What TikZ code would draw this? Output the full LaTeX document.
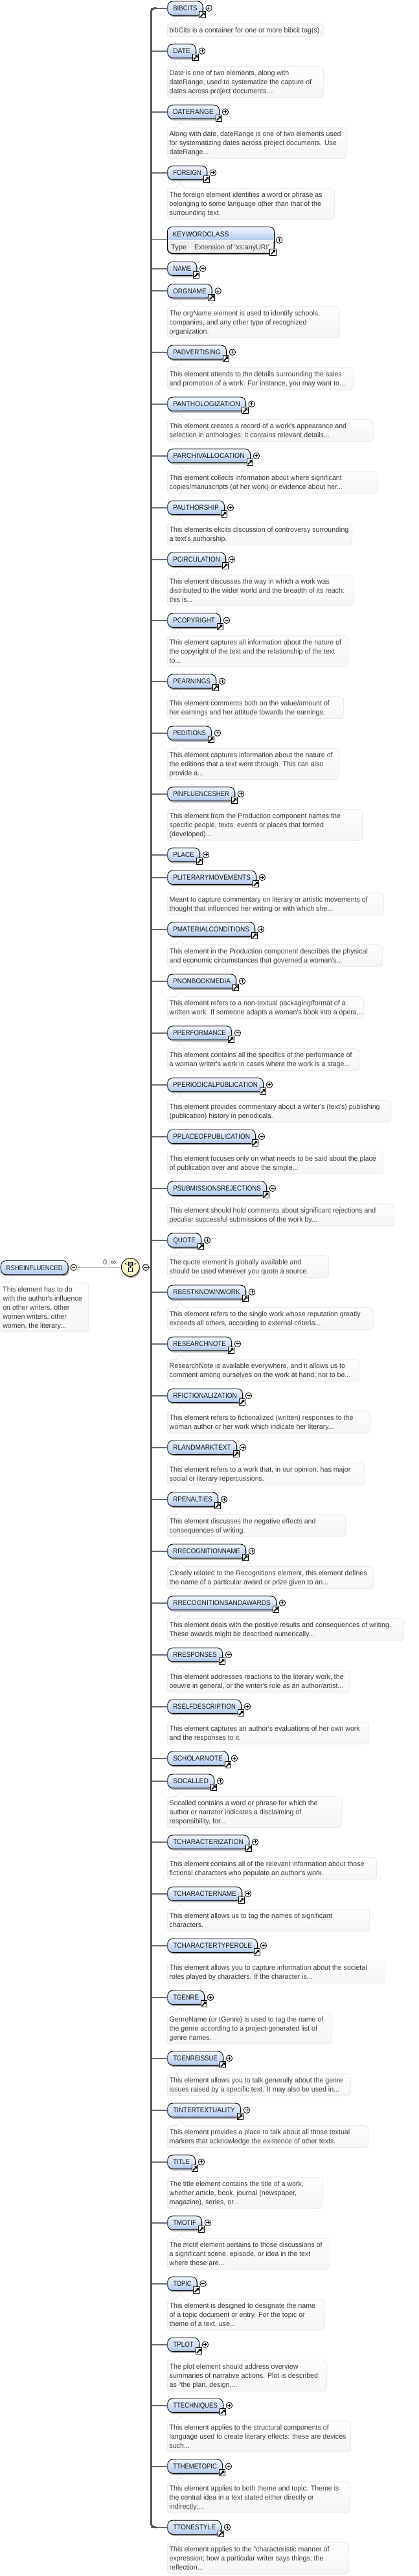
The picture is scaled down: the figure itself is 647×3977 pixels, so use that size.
\documentclass[tikz,border=0pt]{standalone}
\usepackage{fontspec}
\usepackage{graphicx}
\setmainfont{Liberation Sans}
\newfontfamily\descfont[FakeStretch=0.965]{Liberation Sans}
\usetikzlibrary{shadows}
\definecolor{boxtop}{HTML}{F3F7FE}
\definecolor{boxbot}{HTML}{B3C9EE}
\definecolor{desctop}{HTML}{FFFFFF}
\definecolor{descbot}{HTML}{F6F6F6}
\definecolor{descline}{HTML}{E6E6E6}
\definecolor{nametext}{HTML}{1C1C1C}
\definecolor{desctext}{HTML}{3A3A3A}
\definecolor{spinecol}{HTML}{555555}
\definecolor{branchcol}{HTML}{6A6A6A}
\definecolor{seqfill}{HTML}{FDF8C8}
\definecolor{rowfill}{HTML}{EFEFEF}
\tikzset{
  softshadow/.style={drop shadow={shadow xshift=1.5pt,shadow yshift=-2.5pt,opacity=0.33,fill=black}},
  namebox/.style={rectangle,rounded corners=8pt,draw=black,line width=0.9pt,inner xsep=0pt,inner ysep=0pt,
    minimum height=21.4pt,text height=8pt,text depth=0pt,text=nametext,
    top color=boxtop,bottom color=boxbot,softshadow},
  linkicon/.style={rectangle,draw=black,line width=1pt,fill=white,minimum size=9.5pt,inner sep=0pt,
    path picture={
      \coordinate (ic) at (path picture bounding box.center);
      \draw[black,line width=1.7pt] ([shift={(-3pt,-3pt)}]ic) -- ([shift={(1.2pt,1.2pt)}]ic);
      \fill[black] ([shift={(3.4pt,3.4pt)}]ic) -- ([shift={(-1pt,3.4pt)}]ic) -- ([shift={(3.4pt,-1pt)}]ic) -- cycle;}},
  pluscirc/.style={circle,draw=black,line width=0.8pt,fill=white,minimum size=9.6pt,inner sep=0pt,
    path picture={
      \coordinate (pc) at (path picture bounding box.center);
      \draw[black,line width=0.8pt] ([xshift=-2.6pt]pc) -- ([xshift=2.6pt]pc) ([yshift=-2.6pt]pc) -- ([yshift=2.6pt]pc);}},
  minuscirc/.style={circle,draw=black,line width=0.8pt,fill=white,minimum size=9.6pt,inner sep=0pt,
    path picture={
      \coordinate (pc) at (path picture bounding box.center);
      \draw[black,line width=0.8pt] ([xshift=-2.6pt]pc) -- ([xshift=2.6pt]pc);}},
  branch/.style={draw=branchcol,line width=1.7pt},
  spine/.style={draw=spinecol,line width=3pt},
  thinline/.style={draw=black!32,line width=0.9pt},
  descshape/.style={draw=descline,line width=0.8pt,top color=desctop,bottom color=descbot},
  desctextstyle/.style={anchor=north west,inner sep=0pt,align=left,text=desctext,
    font=\descfont\fontsize{11}{14}\selectfont},
  nameonly/.style={inner sep=0pt,text=nametext,font=\fontsize{11}{14}\selectfont},
}
% id, left, centre y, right
\newcommand{\nm}[4]{%
  \pgfmathsetmacro\myW{#4-#2}%
  \pgfmathsetmacro\myT{#4-#2-17}%
  \node (#1) [namebox,anchor=west,minimum width=\myW pt] at (#2,#3)
     {\fontsize{11}{14}\selectfont\resizebox{\myT pt}{\height}{#1}\hspace{1pt}};%
}
% id, centre y, right; adds spine branch, link icon and plus circle
\newcommand{\elem}[3]{%
  \nm{#1}{258.3}{#2}{#3}%
  \coordinate (s#1) at (233.3,#2);%
  \draw[branch] (s#1) -- (#1.west);%
  \node (i#1) [linkicon] at ([shift={(-1pt,-10pt)}]#1.east) {};%
  \node (p#1) [pluscirc] at ([xshift=9pt]#1.east) {};%
}
% id, left, top, right, number of lines, pointer x, text
\newcommand{\dsc}[7]{%
  \pgfmathsetmacro\myB{#3+6+14*#5}%
  \pgfmathsetmacro\myA{#3-7.7}%
  \pgfmathsetmacro\myPL{#6-7.6}%
  \pgfmathsetmacro\myPO{#6-8.6}%
  \pgfmathsetmacro\myPR{#6+7.6}%
  \pgfmathsetmacro\myPS{#6+8.6}%
  \path[descshape] (\myPO,#3) -- (\myPL,#3) -- (#6,\myA) -- (\myPR,#3) -- (\myPS,#3) [rounded corners=6pt]
     -- (#4,#3) -- (#4,\myB) -- (#2,\myB) -- (#2,#3) -- cycle;%
  \pgfmathsetmacro\myTX{#2+3.2}%
  \pgfmathsetmacro\myTY{#3+3}%
  \node (d#1) [desctextstyle] at (\myTX,\myTY) {\rule{0pt}{11pt}#7};%
}
% id, centre y, right, desc right, lines, text
\newcommand{\elemd}[6]{%
  \elem{#1}{#2}{#3}%
  \pgfmathsetmacro\myDT{#2+24}%
  \dsc{#1}{258.3}{\myDT}{#4}{#5}{278.3}{#6}%
}
\begin{document}
\begin{tikzpicture}[x=1pt,y=-1pt]
\useasboundingbox (0,0) rectangle (647,3977);

\elemd{BIBCITS}{12.7}{312.7}{499.7}{1}{bibCits is a container for one or more bibcit tag(s).}
\elemd{DATE}{78.7}{302}{499.7}{3}{Date is one of two elements, along with\\dateRange, used to systematize the capture of\\dates across project documents....}
\elemd{DATERANGE}{172.7}{338}{535.7}{3}{Along with date, dateRange is one of two elements used\\for systematizing dates across project documents. Use\\dateRange...}
\elemd{FOREIGN}{266.7}{319}{516.7}{3}{The foreign element identifies a word or phrase as\\belonging to some language other than that of the\\surrounding text.}

% KEYWORDCLASS: a header with a row of its type below it
\node (KEYWORDCLASS) [rectangle,rounded corners=8pt,draw=black,line width=0.9pt,fill=rowfill,inner sep=0pt,
   minimum width=164.4pt,minimum height=40.7pt,anchor=north west,softshadow] at (258.3,350) {};
\begin{scope}
  \clip[rounded corners=8pt] (KEYWORDCLASS.north west) rectangle (KEYWORDCLASS.south east);
  \shade[top color=boxtop,bottom color=boxbot] (258.3,350) rectangle (422.7,371);
  \draw[white,line width=1pt] (258.3,371.6) -- (422.7,371.6);
  \draw[white,line width=1pt] (294,371.6) -- (294,390.7);
\end{scope}
\draw[black,line width=0.9pt,rounded corners=8pt] (KEYWORDCLASS.north west) rectangle (KEYWORDCLASS.south east);
\node (kwTitle) [nameonly,anchor=west,text height=8pt,text depth=0pt] at (266.3,361) {\resizebox{87pt}{\height}{KEYWORDCLASS}};
\node (kwType) [nameonly,anchor=west,text height=8pt,text depth=0pt,text=desctext] at (264,381) {\resizebox{24pt}{\height}{Type}};
\node (kwExt) [nameonly,anchor=west,text height=8pt,text depth=0pt,text=desctext] at (300,381) {\resizebox{115.7pt}{\height}{Extension of 'xs:anyURI'}};
\coordinate (sKEYWORDCLASS) at (233.3,369.6);
\coordinate (eKEYWORDCLASS) at (258.3,369.6);
\draw[branch] (sKEYWORDCLASS) -- (eKEYWORDCLASS);
\node (iKEYWORDCLASS) [linkicon] at (421.7,389.3) {};
\node (pKEYWORDCLASS) [pluscirc] at (431.3,370.7) {};

\elem{NAME}{414.7}{303.3}
\elemd{ORGNAME}{449.3}{326.7}{524.3}{3}{The orgName element is used to identify schools,\\companies, and any other type of recognized\\organization.}
\elemd{PADVERTISING}{543.7}{349}{546.7}{2}{This element attends to the details surrounding the sales\\and promotion of a work. For instance, you may want to...}
\elemd{PANTHOLOGIZATION}{623.7}{378.7}{576.7}{2}{This element creates a record of a work's appearance and\\selection in anthologies; it contains relevant details...}
\elemd{PARCHIVALLOCATION}{703.7}{386}{583.7}{2}{This element collects information about where significant\\copies/manuscripts (of her work) or evidence about her...}
\elemd{PAUTHORSHIP}{783.7}{346}{543.7}{2}{This elements elicits discussion of controversy surrounding\\a text's authorship.}
\elemd{PCIRCULATION}{863.7}{348}{545.7}{3}{This element discusses the way in which a work was\\distributed to the wider world and the breadth of its reach:\\this is...}
\elemd{PCOPYRIGHT}{957.7}{340}{537.7}{3}{This element captures all information about the nature of\\the copyright of the text and the relationship of the text\\to...}
\elemd{PEARNINGS}{1051.7}{333}{530.7}{2}{This element comments both on the value/amount of\\her earnings and her attitude towards the earnings.}
\elemd{PEDITIONS}{1131.7}{326}{523.7}{3}{This element captures information about the nature of\\the editions that a text went through. This can also\\provide a...}
\elemd{PINFLUENCESHER}{1225.7}{362}{559.7}{3}{This element from the Production component names the\\specific people, texts, events or places that formed\\(developed)...}
\elem{PLACE}{1319.7}{308}
\elemd{PLITERARYMOVEMENTS}{1354.7}{395}{592.7}{2}{Meant to capture commentary on literary or artistic movements of\\thought that influenced her writing or with which she...}
\elemd{PMATERIALCONDITIONS}{1434.7}{393}{590.7}{2}{This element in the Production component describes the physical\\and economic circumstances that governed a woman's...}
\elemd{PNONBOOKMEDIA}{1514.7}{364}{561.7}{2}{This element refers to a non-textual packaging/format of a\\written work. If someone adapts a woman's book into a opera,...}
\elemd{PPERFORMANCE}{1594.7}{357}{554.7}{2}{This element contains all the specifics of the performance of\\a woman writer's work in cases where the work is a stage...}
\elemd{PPERIODICALPUBLICATION}{1674.7}{406}{603.7}{2}{This element provides commentary about a writer's (text's) publishing\\(publication) history in periodicals.}
\elemd{PPLACEOFPUBLICATION}{1754.7}{394}{591.7}{2}{This element focuses only on what needs to be said about the place\\of publication over and above the simple...}
\elemd{PSUBMISSIONSREJECTIONS}{1834.7}{411}{608.7}{2}{This element should hold comments about significant rejections and\\peculiar successful submissions of the work by...}
\elemd{QUOTE}{1914.7}{310}{507.7}{2}{The quote element is globally available and\\should be used wherever you quote a source.}
\elemd{RBESTKNOWNWORK}{1994.7}{379}{576.7}{2}{This element refers to the single work whose reputation greatly\\exceeds all others, according to external criteria...}
\elemd{RESEARCHNOTE}{2074.7}{357}{554.7}{2}{ResearchNote is available everywhere, and it allows us to\\comment among ourselves on the work at hand; not to be...}
\elemd{RFICTIONALIZATION}{2154.7}{374}{571.7}{2}{This element refers to fictionalized (written) responses to the\\woman author or her work which indicate her literary...}
\elemd{RLANDMARKTEXT}{2234.7}{365}{562.7}{2}{This element refers to a work that, in our opinion, has major\\social or literary repercussions.}
\elemd{RPENALTIES}{2314.7}{336}{533.7}{2}{This element discusses the negative effects and\\consequences of writing.}
\elemd{RRECOGNITIONNAME}{2394.7}{379}{576.7}{2}{Closely related to the Recognitions element, this element defines\\the name of a particular award or prize given to an...}
\elemd{RRECOGNITIONSANDAWARDS}{2474.7}{426}{623.7}{2}{This element deals with the positive results and consequences of writing.\\These awards might be described numerically...}
\elemd{RRESPONSES}{2554.7}{343}{540.7}{2}{This element addresses reactions to the literary work, the\\oeuvre in general, or the writer's role as an author/artist...}
\elemd{RSELFDESCRIPTION}{2634.7}{372}{569.7}{2}{This element captures an author's evaluations of her own work\\and the responses to it.}
\elem{SCHOLARNOTE}{2714.7}{352}
\elemd{SOCALLED}{2749.7}{330}{527.7}{3}{Socalled contains a word or phrase for which the\\author or narrator indicates a disclaiming of\\responsibility, for...}
\elemd{TCHARACTERIZATION}{2843.7}{384}{581.7}{2}{This element contains all of the relevant information about those\\fictional characters who populate an author's work.}
\elemd{TCHARACTERNAME}{2923.7}{373}{570.7}{2}{This element allows us to tag the names of significant\\characters.}
\elemd{TCHARACTERTYPEROLE}{3003.7}{397}{594.7}{2}{This element allows you to capture information about the societal\\roles played by characters. If the character is...}
\elemd{TGENRE}{3083.7}{315}{512.7}{3}{GenreName (or tGenre) is used to tag the name of\\the genre according to a project-generated list of\\genre names.}
\elemd{TGENREISSUE}{3177.7}{344}{541.7}{2}{This element allows you to talk generally about the genre\\issues raised by a specific text. It may also be used in...}
\elemd{TINTERTEXTUALITY}{3257.7}{371}{568.7}{2}{This element provides a place to talk about all those textual\\markers that acknowledge the existence of other texts.}
\elemd{TITLE}{3337.7}{301}{498.7}{3}{The title element contains the title of a work,\\whether article, book, journal (newspaper,\\magazine), series, or...}
\elemd{TMOTIF}{3431.7}{311}{508.7}{3}{The motif element pertains to those discussions of\\a significant scene, episode, or idea in the text\\where these are...}
\elemd{TOPIC}{3525.7}{303.7}{501.7}{3}{This element is designed to designate the name\\of a topic document or entry. For the topic or\\theme of a text, use...}
\elemd{TPLOT}{3619.7}{307}{504.7}{3}{The plot element should address overview\\summaries of narrative actions. Plot is described\\as "the plan, design,...}
\elemd{TTECHNIQUES}{3713.7}{344}{541.7}{3}{This element applies to the structural components of\\language used to create literary effects: these are devices\\such...}
\elemd{TTHEMETOPIC}{3807.7}{343}{540.7}{3}{This element applies to both theme and topic. Theme is\\the central idea in a text stated either directly or\\indirectly;...}
\elemd{TTONESTYLE}{3901.7}{341}{538.7}{3}{This element applies to the "characteristic manner of\\expression; how a particular writer says things; the\\reflection...}

% the spine joining all the children
\draw[spine,rounded corners=6pt] ([xshift=8pt]sBIBCITS) -- (sBIBCITS) -- (sTTONESTYLE) -- ([xshift=8pt]sTTONESTYLE);

% the parent element and its sequence compositor
\nm{RSHEINFLUENCED}{0.7}{1957}{104.7}
\node (pRSHEINFLUENCED) [minuscirc] at (113.7,1956.7) {};
\dsc{RSHEINFLUENCED}{0.9}{1980}{136.7}{5}{20}{This element has to do\\with the author's influence\\on other writers, other\\women writers, other\\women, the literary...}
\node (seq) [circle,draw=black,line width=0.9pt,fill=seqfill,minimum size=28pt,inner sep=0pt,softshadow] at (201.3,1956.4) {};
\draw[thinline] (pRSHEINFLUENCED) -- (seq);
\node (seqmul) [inner sep=0pt,anchor=base west,font=\fontsize{11}{14}\selectfont,text=desctext] at (159,1952.7) {0..∞};
\node (seqTop) [rectangle,draw=black,line width=0.7pt,fill=black!40,minimum size=6pt,inner sep=0pt] at (201.3,1951) {};
\node (seqBot) [rectangle,draw=black,line width=0.7pt,fill=white,minimum size=6pt,inner sep=0pt] at (201.3,1960.7) {};
\coordinate (seqL) at (193.6,1951);
\coordinate (seqR) at (209,1951);
\draw[black,line width=0.8pt] (seqL) -- (seqTop) (seqTop) -- (seqR) (seqTop) -- (seqBot);
\fill[black] (seqL) circle (1pt) (seqR) circle (1pt);
\node (mseq) [minuscirc] at (225,1956.7) {};
\coordinate (spinejoin) at (233.3,1956.7);
\draw[branch] (mseq) -- (spinejoin);
\end{tikzpicture}
\end{document}
